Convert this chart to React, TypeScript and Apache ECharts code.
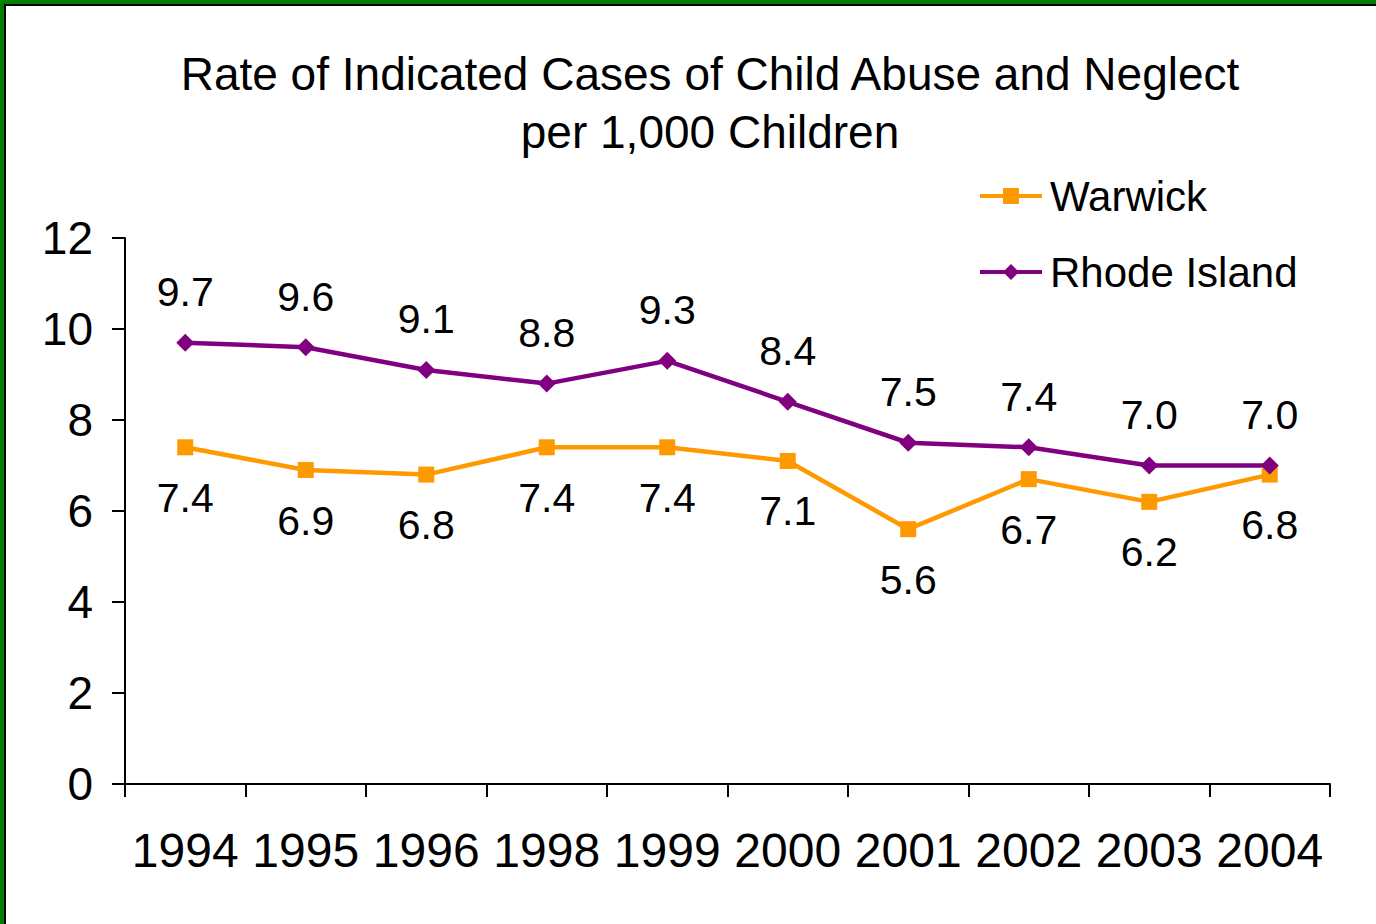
import React, { useEffect, useRef } from "react";
import * as echarts from "echarts";

const years = ["1994", "1995", "1996", "1998", "1999", "2000", "2001", "2002", "2003", "2004"];
const warwick = [7.4, 6.9, 6.8, 7.4, 7.4, 7.1, 5.6, 6.7, 6.2, 6.8];
const rhodeIsland = [9.7, 9.6, 9.1, 8.8, 9.3, 8.4, 7.5, 7.4, 7.0, 7.0];
const titleText = "Rate of Indicated Cases of Child Abuse and Neglect\nper 1,000 Children";

const FONT = "Liberation Sans, Arial, sans-serif";

export default function App() {
  const ref = useRef<HTMLDivElement>(null);
  useEffect(() => {
    document.body.style.margin = "0";
    const chart = echarts.init(ref.current!, null, { renderer: "svg" });
    chart.setOption({
      animation: false,
      backgroundColor: "#ffffff",
      title: {
        text: titleText,
        left: 705,
        textAlign: "center",
        top: 40,
        textStyle: { fontFamily: FONT, fontSize: 46, fontWeight: "normal", color: "#000", lineHeight: 58 },
      },
      legend: {
        orient: "vertical",
        left: 973,
        top: 170,
        itemWidth: 62,
        itemHeight: 20,
        itemGap: 34,
        lineStyle: { width: 4 },
        textStyle: { fontFamily: FONT, fontSize: 42, color: "#000", padding: [0, 0, 0, 3] },
        data: ["Warwick", "Rhode Island"],
      },
      grid: { left: 125, right: 46, top: 238, bottom: 140, containLabel: false },
      xAxis: {
        type: "category",
        data: years,
        boundaryGap: true,
        axisLine: { lineStyle: { color: "#000", width: 2 } },
        axisTick: { show: true, interval: 0, length: 13, lineStyle: { color: "#000", width: 2 } },
        axisLabel: { interval: 0, fontFamily: FONT, fontSize: 48, color: "#000", margin: 42 },
      },
      yAxis: {
        type: "value",
        min: 0,
        max: 12,
        interval: 2,
        axisLine: { show: true, lineStyle: { color: "#000", width: 2 } },
        axisTick: { show: true, length: 13, lineStyle: { color: "#000", width: 2 } },
        axisLabel: { fontFamily: FONT, fontSize: 46, color: "#000", margin: 32 },
        splitLine: { show: false },
      },
      series: [
        {
          name: "Warwick",
          type: "line",
          data: warwick,
          color: "#FF9900",
          symbol: "rect",
          symbolSize: 16,
          lineStyle: { width: 4.5, color: "#FF9900" },
          itemStyle: { color: "#FF9900" },
          label: {
            show: true,
            position: "bottom",
            distance: 22,
            fontFamily: FONT,
            fontSize: 41,
            color: "#000",
            formatter: (p: any) => p.value.toFixed(1),
          },
        },
        {
          name: "Rhode Island",
          type: "line",
          data: rhodeIsland,
          color: "#800080",
          symbol: "diamond",
          symbolSize: 18,
          lineStyle: { width: 4.5, color: "#800080" },
          itemStyle: { color: "#800080" },
          label: {
            show: true,
            position: "top",
            distance: 21,
            fontFamily: FONT,
            fontSize: 41,
            color: "#000",
            formatter: (p: any) => p.value.toFixed(1),
          },
        },
      ],
      graphic: [
        { type: "rect", shape: { x: 0, y: 0, width: 1376, height: 4 }, style: { fill: "#008000" } },
        { type: "rect", shape: { x: 0, y: 0, width: 4, height: 924 }, style: { fill: "#008000" } },
        { type: "rect", shape: { x: 4, y: 4, width: 1372, height: 2 }, style: { fill: "#000" } },
        { type: "rect", shape: { x: 4, y: 4, width: 2, height: 920 }, style: { fill: "#000" } },
      ],
    });
    return () => chart.dispose();
  }, []);
  return <div ref={ref} style={{ position: "fixed", left: 0, top: 0, width: 1376, height: 924 }} />;
}
